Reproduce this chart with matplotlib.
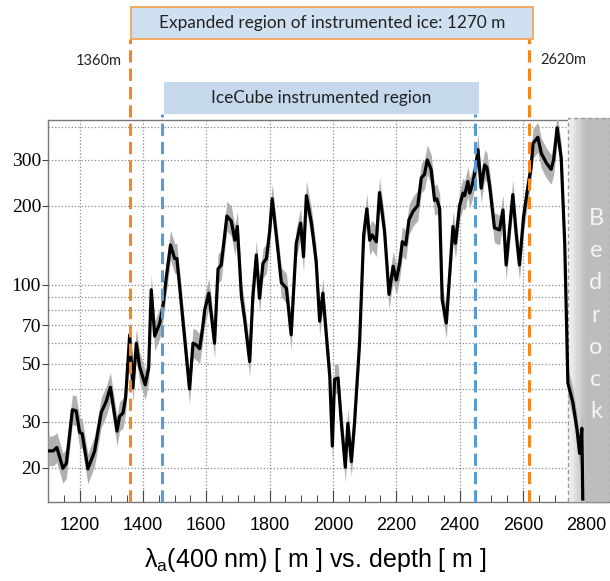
import matplotlib.pyplot as plt
from matplotlib.patches import Rectangle
from matplotlib.ticker import FixedLocator, MultipleLocator, NullFormatter

# absorption length vs depth
depth_m = [1100, 1116, 1128, 1147, 1158, 1177, 1189, 1200, 1208, 1226,
           1247, 1268, 1284, 1297, 1318, 1326, 1337, 1345, 1358, 1368,
           1379, 1389, 1407, 1418, 1426, 1437, 1453, 1463, 1474, 1487,
           1500, 1507, 1516, 1532, 1547, 1558, 1568, 1579, 1589, 1595,
           1608, 1626, 1637, 1647, 1665, 1679, 1690, 1698, 1711, 1721,
           1737, 1747, 1758, 1768, 1779, 1790, 1800, 1808, 1821, 1837,
           1853, 1868, 1884, 1898, 1907, 1916, 1932, 1947, 1958, 1968,
           1976, 1990, 1998, 2005, 2016, 2026, 2039, 2047, 2058, 2068,
           2084, 2097, 2107, 2116, 2124, 2137, 2147, 2163, 2177, 2190,
           2200, 2211, 2219, 2230, 2240, 2253, 2268, 2279, 2289, 2298,
           2310, 2321, 2328, 2337, 2345, 2358, 2379, 2387, 2400, 2411,
           2416, 2426, 2432, 2440, 2450, 2458, 2468, 2479, 2486, 2495,
           2510, 2526, 2537, 2547, 2568, 2579, 2589, 2602, 2616, 2626,
           2632, 2647, 2658, 2674, 2689, 2697, 2708, 2721, 2732, 2742,
           2758, 2771, 2779, 2786, 2789]
lambda_a = [23.2, 23.2, 23.9, 19.9, 20.8, 33.3, 33.0, 27.3, 27.0, 19.8,
            23.1, 32.5, 35.9, 40.6, 27.6, 31.4, 32.4, 36.9, 64.4, 40.4,
            59.8, 48.8, 41.5, 48.1, 95.7, 63.7, 71.4, 82.6, 107.5, 141.9,
            126, 126, 97.8, 61.6, 40.0, 59.8, 59.0, 57.0, 69.3, 80.2,
            92.9, 59.8, 115, 119, 183, 175, 148, 167, 90.2, 74.0,
            50.9, 90.2, 130, 88.8, 120.9, 126, 160, 213, 155, 102,
            97.0, 64.4, 144, 172, 128, 219, 172, 122.8, 72.6, 92.9,
            71.4, 44.6, 24.2, 43.6, 44.0, 30.2, 20.1, 29.6, 21.1, 29.6,
            59.8, 155, 195, 148, 155, 146, 225, 160, 91.9, 117.7,
            104.4, 120.9, 146, 142, 177, 190.8, 201, 256, 264, 300,
            276, 210, 213, 195.8, 87.7, 71.4, 167, 144, 201, 224,
            219, 248, 224, 241, 276, 328, 234, 287, 281, 238,
            165, 162, 193, 119, 221, 155, 119, 182, 238, 283,
            347, 366, 318, 292, 276, 300, 398, 304, 144, 42.1,
            35.4, 27.9, 22.7, 28.3, 15.2]
band_factor = 1.14  # width of the grey uncertainty band

x_ticks = [1200, 1400, 1600, 1800, 2000, 2200, 2400, 2600, 2800]
y_ticks = [20, 30, 50, 70, 100, 200, 300]
y_extra_grid = [40, 60, 80, 90, 400]

expanded = (1360, 2620)
icecube = (1460, 2450)
bedrock_start, bedrock_solid = 2742, 2795

W, H = 610, 581


def fx(x):
    return x / W


def fy(y):
    return 1 - y / H


fig = plt.figure(figsize=(W / 100, H / 100), dpi=100)
ax = fig.add_axes([fx(48), fy(502), 562 / W, 382 / H])

lo = [v / band_factor for v in lambda_a]
hi = [v * band_factor for v in lambda_a]
ax.fill_between(depth_m, lo, hi, color="#b0b0b0", lw=0, zorder=4)
ax.plot(depth_m, lambda_a, color="black", lw=2.3, zorder=5)

ax.set_yscale("log")
ax.set_xlim(1100, 2875)
ax.set_ylim(14.8, 426)

ax.set_xticks(x_ticks)
ax.set_xticklabels([str(t) for t in x_ticks], fontfamily="Liberation Sans")
ax.xaxis.set_minor_locator(MultipleLocator(50))
ax.set_yticks(y_ticks)
ax.set_yticklabels([str(t) for t in y_ticks], fontfamily="Liberation Serif")
ax.yaxis.set_minor_locator(FixedLocator(y_extra_grid))
ax.yaxis.set_minor_formatter(NullFormatter())

ax.tick_params(axis="x", which="major", direction="in", length=9, width=0.8,
               pad=11, labelsize=13, color="#444444")
ax.tick_params(axis="x", which="minor", direction="in", length=5, width=0.7,
               color="#444444")
ax.tick_params(axis="y", which="major", direction="out", length=4, width=0.8,
               pad=1, labelsize=14, color="#444444")
ax.tick_params(axis="y", which="minor", length=0)

ax.grid(True, axis="x", which="major", ls=":", color="#8a8a8a", lw=0.9)
ax.grid(True, axis="y", which="both", ls=":", color="#8a8a8a", lw=0.9)
for side in ["left", "bottom", "top"]:
    ax.spines[side].set_color("#777777")
    ax.spines[side].set_linewidth(1.0)
ax.spines["right"].set_visible(False)

# bedrock band with soft left edge
xform = ax.get_xaxis_transform()
n_steps = 14
step = (bedrock_solid - bedrock_start) / n_steps
for i in range(n_steps):
    g = 0.96 - 0.2 * i / (n_steps - 1)
    ax.add_patch(Rectangle((bedrock_start + i * step, 0), step * 1.05, 1.005,
                           transform=xform, facecolor=(g, g, g), lw=0,
                           zorder=3, clip_on=False))
ax.add_patch(Rectangle((bedrock_solid, 0), 2875 - bedrock_solid, 1.005,
                       transform=xform, facecolor="#bdbdbd", lw=0,
                       zorder=3, clip_on=False))
ax.add_patch(Rectangle((bedrock_start, 0), 2875 - bedrock_start, 1.005,
                       transform=xform, facecolor="none", edgecolor="#9a9a9a",
                       lw=1.0, ls=(0, (3, 2)), zorder=3.5, clip_on=False))
for i, ch in enumerate("Bedrock"):
    fig.text(fx(596), fy(225 + i * 32.2), ch, ha="center", va="baseline",
             fontsize=17, color="#f4f4f4", fontfamily="Lato")

# region markers
for xv in expanded:
    ax.axvline(xv, ymin=0, ymax=(502 - 39) / 382, color="#f7861c", lw=2.2,
               dashes=(4, 2), clip_on=False, zorder=6)
for xv in icecube:
    ax.axvline(xv, ymin=0, ymax=(502 - 114) / 382, color="#5b9bd5", lw=2.2,
               dashes=(4, 2), clip_on=False, zorder=6)

fig.patches.append(Rectangle((fx(131), fy(39)), (533 - 131) / W, 32 / H,
                             transform=fig.transFigure, facecolor="#cfe0f1",
                             edgecolor="#f5a04a", lw=1.2))
fig.text(fx(332), fy(23), "Expanded region of instrumented ice: 1270 m",
         ha="center", va="center", fontsize=12.4, fontfamily="Lato",
         color="#222222")
fig.patches.append(Rectangle((fx(164), fy(114)), (479 - 164) / W, 32 / H,
                             transform=fig.transFigure, facecolor="#c5d8ec",
                             lw=0))
fig.text(fx(321), fy(98), "IceCube instrumented region", ha="center",
         va="center", fontsize=12.4, fontfamily="Lato", color="#222222")
fig.text(fx(99), fy(61), "1360m", ha="center", va="center", fontsize=10.5,
         fontfamily="Lato", color="#222222")
fig.text(fx(563), fy(60), "2620m", ha="center", va="center", fontsize=10.5,
         fontfamily="Lato", color="#222222")

plt.rcParams["mathtext.fontset"] = "custom"
plt.rcParams["mathtext.rm"] = "Liberation Sans"
plt.rcParams["mathtext.it"] = "Liberation Sans"
fig.text(fx(315), fy(560), r"$\lambda_{\rm a}$(400 nm) [ m ] vs. depth [ m ]",
         ha="center", va="center", fontsize=18, fontfamily="Liberation Sans")

fig.savefig("out.png", dpi=100)
